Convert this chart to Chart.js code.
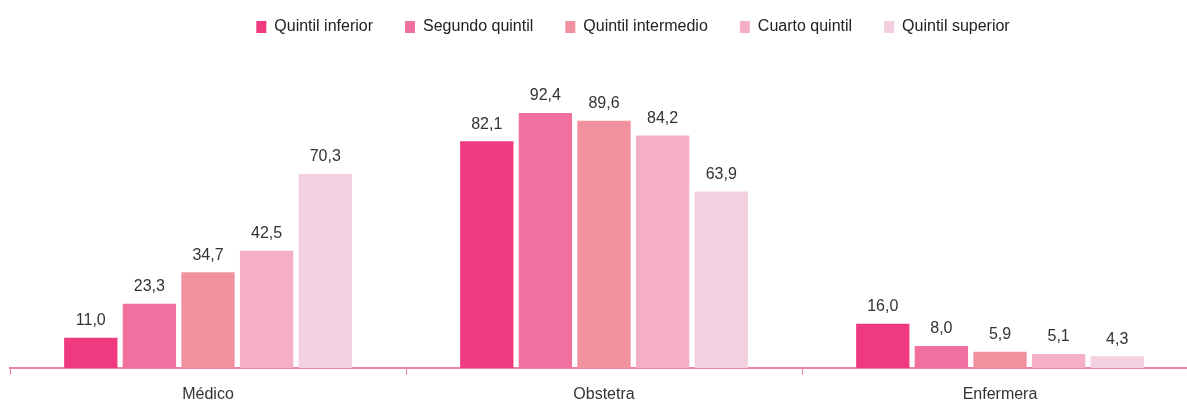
<!DOCTYPE html>
<html>
<head>
<meta charset="utf-8">
<script src="https://cdn.jsdelivr.net/npm/chart.js@4/dist/chart.umd.min.js"></script>
<style>
  html, body { margin: 0; padding: 0; background: #fff; overflow: hidden; }
  canvas { display: block; }
</style>
</head>
<body>
<canvas id="chart" width="1198" height="415"></canvas>
<script>
// ===== DATA =====
const categories = ["Médico", "Obstetra", "Enfermera"];
const seriesNames = ["Quintil inferior", "Segundo quintil", "Quintil intermedio", "Cuarto quintil", "Quintil superior"];
const inferior   = [11.0, 82.1, 16.0];
const segundo    = [23.3, 92.4, 8.0];
const intermedio = [34.7, 89.6, 5.9];
const cuarto     = [42.5, 84.2, 5.1];
const superior   = [70.3, 63.9, 4.3];
const colors = ["#EF3A80", "#F2709F", "#F2929F", "#F4AEC8", "#F4CFE0"];

const FONT = "'Liberation Sans', Arial, sans-serif";
const AXIS_PINK = "#F07FA7";

// ===== LABEL TRÊN CỘT =====
const valueLabels = {
  id: "valueLabels",
  afterDatasetsDraw(chart) {
    const ctx = chart.ctx;
    ctx.save();
    ctx.font = "16px " + FONT;
    ctx.fillStyle = "#333333";
    ctx.textAlign = "center";
    ctx.textBaseline = "bottom";
    chart.data.datasets.forEach((ds, i) => {
      const meta = chart.getDatasetMeta(i);
      meta.data.forEach((bar, j) => {
        const txt = ds.data[j].toFixed(1).replace(".", ",");
        ctx.fillText(txt, bar.x, bar.y - 9);
      });
    });
    ctx.restore();
  }
};

// dời legend sang phải một chút cho giống bản gốc
const legendShift = {
  id: "legendShift",
  afterLayout(chart) {
    if (chart.legend) {
      chart.legend.left += 29;
      chart.legend.right += 29;
    }
  }
};

const allData = [inferior, segundo, intermedio, cuarto, superior];

new Chart(document.getElementById("chart"), {
  type: "bar",
  data: {
    labels: categories,
    datasets: seriesNames.map((name, i) => ({
      label: name,
      data: allData[i],
      backgroundColor: colors[i],
      borderWidth: 0,
      categoryPercentage: 0.74,
      barPercentage: 0.91
    }))
  },
  options: {
    responsive: false,
    animation: false,
    layout: { padding: { left: 10, right: 0, top: -13, bottom: 0 } },
    plugins: {
      legend: {
        position: "top",
        labels: {
          boxWidth: 10,
          boxHeight: 12,
          padding: 32,
          color: "#222222",
          font: { family: FONT, size: 16 }
        }
      },
      tooltip: { enabled: false }
    },
    scales: {
      x: {
        grid: {
          offset: true,
          drawOnChartArea: false,
          drawTicks: true,
          tickLength: 7,
          color: AXIS_PINK
        },
        border: { color: AXIS_PINK, width: 2 },
        ticks: {
          color: "#333333",
          font: { family: FONT, size: 16, lineHeight: 1 },
          padding: 12
        }
      },
      y: {
        display: false,
        min: 0,
        max: 117
      }
    }
  },
  plugins: [valueLabels, legendShift]
});
</script>
</body>
</html>
